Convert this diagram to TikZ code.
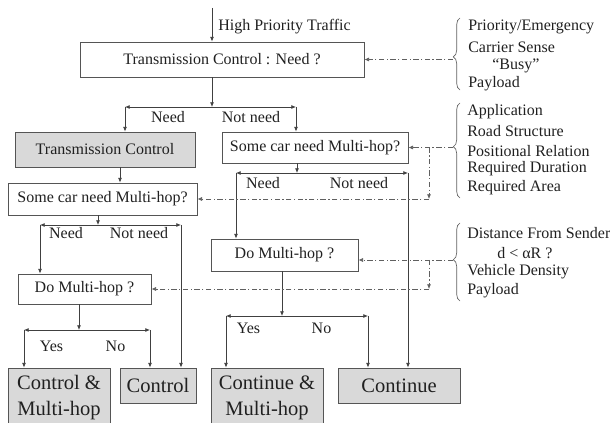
\documentclass[tikz,border=0pt]{standalone}
\usepackage{fontspec}
\setmainfont{Liberation Serif}
\usetikzlibrary{arrows.meta,decorations.pathreplacing}
\definecolor{txt}{HTML}{202020}
\definecolor{linec}{HTML}{404040}
\definecolor{boxc}{HTML}{555555}
\definecolor{dshc}{HTML}{606060}
\definecolor{gfill}{HTML}{D9D9D9}
\begin{document}
\begin{tikzpicture}[x=0.75pt,y=-0.75pt,
  box/.style={draw=boxc, line width=0.6pt, inner sep=0pt, text=txt, font=\fontsize{12}{14}\selectfont},
  gbox/.style={box, fill=gfill},
  big/.style={gbox, align=center, font=\fontsize{15.4}{19.5}\selectfont},
  lbl/.style={inner sep=0pt, text=txt, font=\fontsize{12}{14}\selectfont},
  side/.style={lbl, anchor=west},
  seg/.style={draw=linec, line width=0.6pt},
  arr/.style={seg, -{Latex[length=3.5pt,width=3pt]}},
  dsh/.style={draw=dshc, line width=0.5pt, dash pattern=on 4pt off 1.8pt on 1pt off 1.8pt, -{Latex[length=3.5pt,width=3pt]}},
  brc/.style={draw=dshc, line width=0.5pt, decorate}
]
\useasboundingbox (0,0) rectangle (610,423);

% boxes
\node[box, minimum width=213pt, minimum height=26.25pt] (b1) at (222,59.5) {Transmission Control : Need ?};
\node[gbox, minimum width=135pt, minimum height=26.25pt] (tc) at (105,149.5) {Transmission Control};
\node[box, minimum width=139.5pt, minimum height=23.25pt] (sr) at (315,147.5) {Some car need Multi-hop?};
\node[box, minimum width=141.75pt, minimum height=24pt] (sl) at (102.5,199) {Some car need Multi-hop?};
\node[box, minimum width=110.25pt, minimum height=24pt] (dm) at (284.5,255) {Do Multi-hop ?};
\node[box, minimum width=99.75pt, minimum height=22.5pt] (dl) at (84.5,289) {Do Multi-hop ?};
\node[big, minimum width=76.5pt, minimum height=45pt] (cm) at (59,398) {Control \&\\Multi-hop};
\node[big, minimum width=57pt, minimum height=26.25pt] (co) at (158,385.5) {Control};
\node[big, minimum width=84pt, minimum height=45pt] (km) at (267,398) {Continue \&\\Multi-hop};
\node[big, minimum width=91.5pt, minimum height=26.25pt] (kn) at (399,385.5) {Continue};

% top entry
\coordinate (top) at (212,8);
\draw[arr] (top) -- (top |- b1.north);
\node[side] (hpt) at (218,27) {High Priority Traffic};

% junction 1
\coordinate (j1) at (212,107);
\coordinate (c1l) at (125,107);
\coordinate (c1r) at (296,107);
\draw[arr] (j1 |- b1.south) -- (j1);
\draw[arr] (j1) -- (c1l);
\draw[arr] (j1) -- (c1r);
\draw[arr] (c1l) -- (c1l |- tc.north);
\draw[arr] (c1r) -- (c1r |- sr.north);
\node[lbl] (n1a) at (168,117) {Need};
\node[lbl] (n1b) at (251,117) {Not need};

% transmission control -> some car (left)
\coordinate (t1) at (120,0);
\draw[arr] (t1 |- tc.south) -- (t1 |- sl.north);

% junction 2 (right some car)
\coordinate (j2) at (297,173);
\coordinate (c2l) at (236,173);
\coordinate (c2r) at (408,173);
\draw[arr] (j2 |- sr.south) -- (j2);
\draw[arr] (j2) -- (c2l);
\draw[arr] (j2) -- (c2r);
\draw[arr] (c2l) -- (c2l |- dm.north);
\draw[arr] (c2r) -- (c2r |- kn.north);
\node[lbl] (n2a) at (263,183) {Need};
\node[lbl] (n2b) at (359,183) {Not need};

% junction 3 (left some car)
\coordinate (j3) at (98,225);
\coordinate (c3l) at (40,225);
\coordinate (c3r) at (181,225);
\draw[arr] (j3 |- sl.south) -- (j3);
\draw[arr] (j3) -- (c3l);
\draw[arr] (j3) -- (c3r);
\draw[arr] (c3l) -- (c3l |- dl.north);
\draw[arr] (c3r) -- (c3r |- co.north);
\node[lbl] (n3a) at (66,233) {Need};
\node[lbl] (n3b) at (139,233) {Not need};

% junction 4 (left do multi-hop)
\coordinate (j4) at (79,330);
\coordinate (c4l) at (24,330);
\coordinate (c4r) at (150,330);
\draw[arr] (j4 |- dl.south) -- (j4);
\draw[arr] (j4) -- (c4l);
\draw[arr] (j4) -- (c4r);
\draw[arr] (c4l) -- (c4l |- cm.north);
\draw[arr] (c4r) -- (c4r |- co.north);
\node[lbl] (n4a) at (51.5,346) {Yes};
\node[lbl] (n4b) at (115.5,346) {No};

% junction 5 (middle do multi-hop)
\coordinate (j5) at (282,316);
\coordinate (c5l) at (226,316);
\coordinate (c5r) at (368,316);
\draw[arr] (j5 |- dm.south) -- (j5);
\draw[arr] (j5) -- (c5l);
\draw[arr] (j5) -- (c5r);
\draw[arr] (c5l) -- (c5l |- km.north);
\draw[arr] (c5r) -- (c5r |- kn.north);
\node[lbl] (n5a) at (248.5,328) {Yes};
\node[lbl] (n5b) at (321.5,328) {No};

% right side texts
\node[side] (s1a) at (468,27) {Priority/Emergency};
\node[side] (s1b) at (468,47) {Carrier Sense};
\node[side] (s1c) at (492,66) {“Busy”};
\node[side] (s1d) at (468,84) {Payload};
\node[side] (s2a) at (467,112) {Application};
\node[side] (s2b) at (467,131) {Road Structure};
\node[side] (s2c) at (467,151) {Positional Relation};
\node[side] (s2d) at (467,169) {Required Duration};
\node[side] (s2e) at (467,188) {Required Area};
\node[side] (s3a) at (467,233) {Distance From Sender};
\node[side] (s3b) at (497,253) {d < αR ?};
\node[side] (s3c) at (467,272) {Vehicle Density};
\node[side] (s3d) at (467,291) {Payload};

% braces
\draw[brc, decoration={brace, amplitude=5pt, aspect=0.46}] (460,90) -- (460,18);
\draw[brc, decoration={brace, amplitude=5pt, aspect=0.54}] (460,198) -- (460,103);
\draw[brc, decoration={brace, amplitude=5pt, aspect=0.53}] (460,301) -- (460,223);
\coordinate (br1) at (453,59.5);
\coordinate (br2) at (453,147.5);
\coordinate (br3) at (453,260);

% dashed influences
\draw[dsh] (br1) -- (b1.east);
\draw[dsh] (br2) -- (sr.east);
\coordinate (d2) at (429,147.5);
\coordinate (d2b) at (429,199);
\draw[dsh] (d2) -- (d2b);
\draw[dsh] (d2b) -- (sl.east);
\draw[dsh] (br3) -- (br3 -| dm.east);
\coordinate (d3) at (429,260);
\coordinate (d3b) at (429,289);
\draw[dsh] (d3) -- (d3b);
\draw[dsh] (d3b) -- (dl.east);
\end{tikzpicture}
\end{document}
